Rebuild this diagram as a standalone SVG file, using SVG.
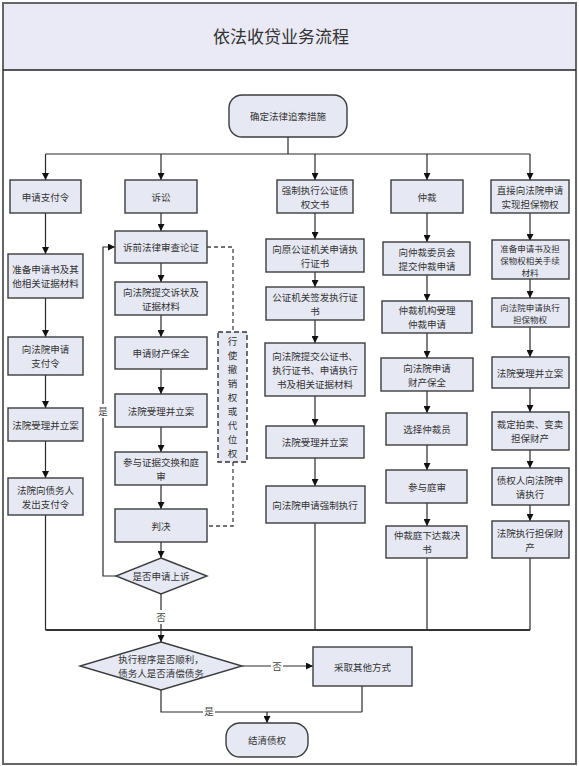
<svg xmlns="http://www.w3.org/2000/svg" width="579" height="766" viewBox="0 0 579 766">
<defs>
<style>
.b{fill:#e6e9f4;stroke:#3c3c3c;stroke-width:1.4}
.t{font-family:"Noto Sans CJK SC","Noto Sans",sans-serif;font-size:9.5px;fill:#333;text-anchor:middle;dominant-baseline:central}
.s{font-size:8.5px}
.l{fill:none;stroke:#2a2a2a;stroke-width:1.2}
.a{fill:none;stroke:#2a2a2a;stroke-width:1.2;marker-end:url(#ah)}
.d{fill:none;stroke:#444;stroke-width:1.3;stroke-dasharray:4,3}
.lb{font-family:"Noto Sans CJK SC","Noto Sans",sans-serif;font-size:9.5px;fill:#444;text-anchor:middle;dominant-baseline:central}
</style>
<marker id="ah" viewBox="0 0 10 10" refX="10" refY="5" markerWidth="7" markerHeight="7" orient="auto" markerUnits="userSpaceOnUse">
<path d="M0,0 L10,5 L0,10 z" fill="#111"/>
</marker>
</defs>
<rect x="0" y="0" width="579" height="766" fill="#fff"/>
<rect x="3" y="3" width="573" height="67" fill="#e9eaf6"/>
<rect x="3" y="3" width="573" height="761" fill="none" stroke="#666" stroke-width="2"/>
<line x1="3" y1="70" x2="576" y2="70" stroke="#222" stroke-width="1.5"/>
<text x="281" y="35" style="font-family:'Noto Sans CJK SC',sans-serif;font-size:17px;fill:#333;text-anchor:middle;dominant-baseline:central">依法收贷业务流程</text>

<g id="connectors">
<line class="l" x1="288" y1="137" x2="288" y2="154"/>
<line class="l" x1="45.5" y1="154" x2="530" y2="154"/>
<line class="a" x1="45.5" y1="154" x2="45.5" y2="180"/>
<line class="a" x1="161" y1="154" x2="161" y2="180"/>
<line class="a" x1="315" y1="154" x2="315" y2="180"/>
<line class="a" x1="427" y1="154" x2="427" y2="180"/>
<line class="a" x1="530" y1="154" x2="530" y2="180"/>
<line class="a" x1="45.5" y1="213" x2="45.5" y2="254"/>
<line class="a" x1="45.5" y1="298" x2="45.5" y2="337"/>
<line class="a" x1="45.5" y1="375" x2="45.5" y2="408"/>
<line class="a" x1="45.5" y1="441" x2="45.5" y2="478"/>
<line class="l" x1="45.5" y1="515" x2="45.5" y2="630"/>
<line class="a" x1="161" y1="213" x2="161" y2="231"/>
<line class="a" x1="161" y1="263" x2="161" y2="282"/>
<line class="a" x1="161" y1="315" x2="161" y2="337"/>
<line class="a" x1="161" y1="369" x2="161" y2="394"/>
<line class="a" x1="161" y1="427" x2="161" y2="452"/>
<line class="a" x1="161" y1="485" x2="161" y2="509"/>
<line class="a" x1="161" y1="542" x2="161" y2="558"/>
<line class="l" x1="161" y1="594" x2="161" y2="630"/>
<polyline class="a" points="116,576 103,576 103,247 115,247"/>
<polyline class="d" points="207,247 233,247 233,332"/>
<polyline class="d" points="233,462 233,526 208,526"/>
<line class="a" x1="315" y1="213" x2="315" y2="239"/>
<line class="a" x1="315" y1="272" x2="315" y2="287"/>
<line class="a" x1="315" y1="320" x2="315" y2="343"/>
<line class="a" x1="315" y1="396" x2="315" y2="426"/>
<line class="a" x1="315" y1="458" x2="315" y2="486"/>
<line class="l" x1="315" y1="523" x2="315" y2="630"/>
<line class="a" x1="427" y1="213" x2="427" y2="242"/>
<line class="a" x1="427" y1="275" x2="427" y2="301"/>
<line class="a" x1="427" y1="333" x2="427" y2="358"/>
<line class="a" x1="427" y1="391" x2="427" y2="413"/>
<line class="a" x1="427" y1="445" x2="427" y2="470"/>
<line class="a" x1="427" y1="503" x2="427" y2="526"/>
<line class="l" x1="427" y1="558" x2="427" y2="630"/>
<line class="a" x1="530" y1="213" x2="530" y2="241"/>
<line class="a" x1="530" y1="279" x2="530" y2="298"/>
<line class="a" x1="530" y1="327" x2="530" y2="357"/>
<line class="a" x1="530" y1="388" x2="530" y2="412"/>
<line class="a" x1="530" y1="450" x2="530" y2="468"/>
<line class="a" x1="530" y1="505" x2="530" y2="521"/>
<line class="l" x1="530" y1="558" x2="530" y2="630"/>
<line x1="45.5" y1="630" x2="530" y2="630" stroke="#333" stroke-width="1.8"/>
<line class="a" x1="161" y1="630" x2="161" y2="642"/>
<line class="a" x1="242" y1="666" x2="313" y2="666"/>
<polyline class="l" points="161,690 161,712 362,712"/>
<line class="l" x1="362" y1="686" x2="362" y2="712"/>
<line class="a" x1="267" y1="712" x2="267" y2="723"/>
<rect x="97" y="404" width="12" height="14" fill="#fff"/>
<text class="lb" x="103" y="411">是</text>
<rect x="155" y="610" width="12" height="14" fill="#fff"/>
<text class="lb" x="161" y="617">否</text>
<rect x="271" y="659" width="12" height="14" fill="#fff"/>
<text class="lb" x="277" y="666">否</text>
<rect x="203" y="706" width="12" height="12" fill="#fff"/>
<text class="lb" x="209" y="711">是</text>
</g>

<g id="start"><rect class="b" x="229" y="95" width="118" height="42" rx="13"/><text class="t" x="288" y="116">确定法律追索措施</text></g>

<g id="c1n1"><rect class="b" x="10" y="180" width="71" height="33"/><text class="t" x="45.5" y="196.5">申请支付令</text></g>
<g id="c1n2"><rect class="b" x="8" y="254" width="75" height="44"/><text class="t" x="45.5" y="269">准备申请书及其</text><text class="t" x="45.5" y="283">他相关证据材料</text></g>
<g id="c1n3"><rect class="b" x="8" y="337" width="75" height="38"/><text class="t" x="45.5" y="349">向法院申请</text><text class="t" x="45.5" y="363">支付令</text></g>
<g id="c1n4"><rect class="b" x="8" y="408" width="75" height="33"/><text class="t" x="45.5" y="424.5">法院受理并立案</text></g>
<g id="c1n5"><rect class="b" x="8" y="478" width="75" height="37"/><text class="t" x="45.5" y="489.5">法院向债务人</text><text class="t" x="45.5" y="503.5">发出支付令</text></g>

<g id="c2n1"><rect class="b" x="125" y="180" width="72" height="33"/><text class="t" x="161" y="196.5">诉讼</text></g>
<g id="c2n2"><rect class="b" x="115" y="231" width="92" height="32"/><text class="t" x="161" y="247">诉前法律审查论证</text></g>
<g id="c2n3"><rect class="b" x="115" y="282" width="92" height="33"/><text class="t" x="161" y="291.5">向法院提交诉状及</text><text class="t" x="161" y="305.5">证据材料</text></g>
<g id="c2n4"><rect class="b" x="115" y="337" width="92" height="32"/><text class="t" x="161" y="353">申请财产保全</text></g>
<g id="c2n5"><rect class="b" x="115" y="394" width="92" height="33"/><text class="t" x="161" y="410.5">法院受理并立案</text></g>
<g id="c2n6"><rect class="b" x="115" y="452" width="92" height="33"/><text class="t" x="161" y="461.5">参与证据交换和庭</text><text class="t" x="161" y="475.5">审</text></g>
<g id="c2n7"><rect class="b" x="115" y="509" width="92" height="33"/><text class="t" x="161" y="525.5">判决</text></g>
<g id="c2d"><polygon class="b" points="161,558 207,576 161,594 116,576"/><text class="t" x="161" y="576">是否申请上诉</text></g>
<g id="c2side"><rect x="218" y="332" width="29" height="130" fill="#e6e9f4" stroke="#333" stroke-width="1.4" stroke-dasharray="5,3"/>
<text class="t" x="232.5" y="341">行</text><text class="t" x="232.5" y="355">使</text><text class="t" x="232.5" y="369">撤</text><text class="t" x="232.5" y="383">销</text><text class="t" x="232.5" y="397">权</text><text class="t" x="232.5" y="411">或</text><text class="t" x="232.5" y="425">代</text><text class="t" x="232.5" y="439">位</text><text class="t" x="232.5" y="453">权</text></g>

<g id="c3n1"><rect class="b" x="277" y="180" width="76" height="33"/><text class="t" x="315" y="189.5">强制执行公证债</text><text class="t" x="315" y="203.5">权文书</text></g>
<g id="c3n2"><rect class="b" x="266" y="239" width="98" height="33"/><text class="t" x="315" y="248.5">向原公证机关申请执</text><text class="t" x="315" y="262.5">行证书</text></g>
<g id="c3n3"><rect class="b" x="266" y="287" width="98" height="33"/><text class="t" x="315" y="296.5">公证机关签发执行证</text><text class="t" x="315" y="310.5">书</text></g>
<g id="c3n4"><rect class="b" x="265" y="343" width="100" height="53"/><text class="t" x="315" y="355.5">向法院提交公证书、</text><text class="t" x="315" y="369.5">执行证书、申请执行</text><text class="t" x="315" y="383.5">书及相关证据材料</text></g>
<g id="c3n5"><rect class="b" x="266" y="426" width="98" height="32"/><text class="t" x="315" y="442">法院受理并立案</text></g>
<g id="c3n6"><rect class="b" x="266" y="486" width="99" height="37"/><text class="t" x="315" y="504.5">向法院申请强制执行</text></g>

<g id="c4n1"><rect class="b" x="391" y="180" width="72" height="33"/><text class="t" x="427" y="196.5">仲裁</text></g>
<g id="c4n2"><rect class="b" x="383" y="242" width="87" height="33"/><text class="t" x="427" y="251.5">向仲裁委员会</text><text class="t" x="427" y="265.5">提交仲裁申请</text></g>
<g id="c4n3"><rect class="b" x="382" y="301" width="90" height="32"/><text class="t" x="427" y="310">仲裁机构受理</text><text class="t" x="427" y="324">仲裁申请</text></g>
<g id="c4n4"><rect class="b" x="381" y="358" width="92" height="33"/><text class="t" x="427" y="367.5">向法院申请</text><text class="t" x="427" y="381.5">财产保全</text></g>
<g id="c4n5"><rect class="b" x="386" y="413" width="81" height="32"/><text class="t" x="427" y="429">选择仲裁员</text></g>
<g id="c4n6"><rect class="b" x="386" y="470" width="81" height="33"/><text class="t" x="427" y="486.5">参与庭审</text></g>
<g id="c4n7"><rect class="b" x="386" y="526" width="81" height="32"/><text class="t" x="427" y="535">仲裁庭下达裁决</text><text class="t" x="427" y="549">书</text></g>

<g id="c5n1"><rect class="b" x="491" y="180" width="78" height="33"/><text class="t" x="530" y="189.5">直接向法院申请</text><text class="t" x="530" y="203.5">实现担保物权</text></g>
<g id="c5n2"><rect class="b" x="492" y="240" width="77" height="39"/><text class="t s" x="530" y="247.5">准备申请书及担</text><text class="t s" x="530" y="259.8">保物权相关手续</text><text class="t s" x="530" y="272.1">材料</text></g>
<g id="c5n3"><rect class="b" x="492" y="298" width="77" height="29"/><text class="t s" x="530" y="306.5">向法院申请执行</text><text class="t s" x="530" y="319">担保物权</text></g>
<g id="c5n4"><rect class="b" x="492" y="357" width="77" height="31"/><text class="t" x="530" y="372.5">法院受理并立案</text></g>
<g id="c5n5"><rect class="b" x="492" y="412" width="77" height="38"/><text class="t" x="530" y="424">裁定拍卖、变卖</text><text class="t" x="530" y="438">担保财产</text></g>
<g id="c5n6"><rect class="b" x="492" y="468" width="77" height="37"/><text class="t" x="530" y="479.5">债权人向法院申</text><text class="t" x="530" y="493.5">请执行</text></g>
<g id="c5n7"><rect class="b" x="492" y="521" width="77" height="37"/><text class="t" x="530" y="532.5">法院执行担保财</text><text class="t" x="530" y="546.5">产</text></g>

<g id="exec"><polygon class="b" points="161,642 242,666 161,690 80,666"/><text class="t" x="161" y="659">执行程序是否顺利，</text><text class="t" x="161" y="673">债务人是否清偿债务</text></g>
<g id="other"><rect class="b" x="313" y="647" width="99" height="39"/><text class="t" x="362.5" y="666.5">采取其他方式</text></g>
<g id="end"><rect class="b" x="226" y="723" width="82" height="34" rx="14"/><text class="t" x="267" y="740">结清债权</text></g>
</svg>
